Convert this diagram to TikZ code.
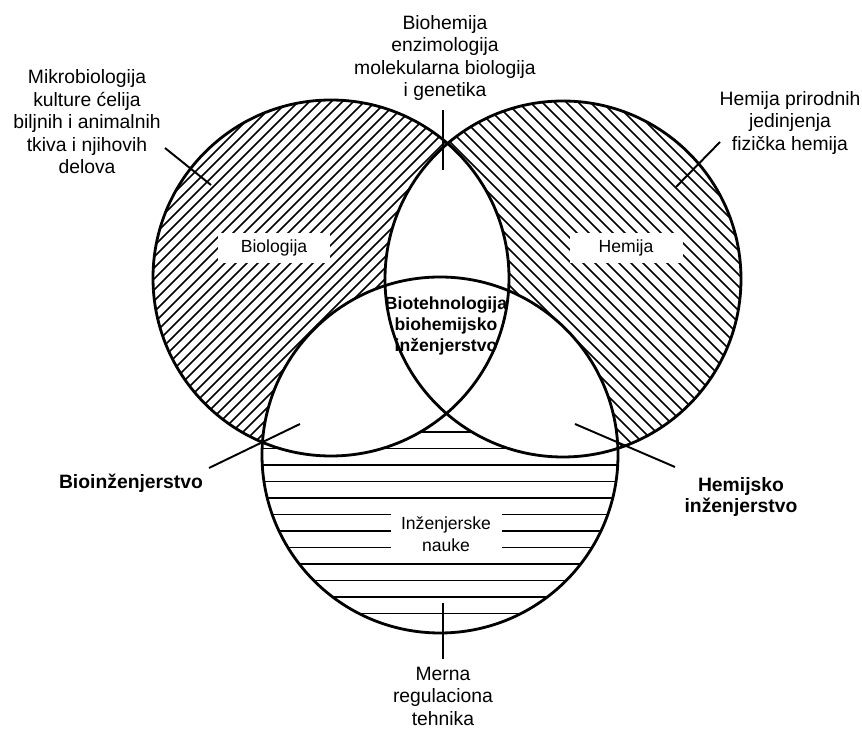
\documentclass[tikz,border=0pt]{standalone}
\usepackage{fontspec}
\setmainfont{Liberation Sans}
\begin{document}
\begin{tikzpicture}[x=0.2mm, y=-0.2mm,
    ring/.style = {line width=1.6pt},
    hatch/.style = {line width=0.85pt},
    lead/.style = {line width=1.1pt},
    outtext/.style = {font=\fontsize{11}{12.8}\selectfont, align=center, inner sep=0pt},
    boldtext/.style = {font=\bfseries\fontsize{11}{12}\selectfont, align=center, inner sep=0pt},
    midtext/.style = {font=\bfseries\fontsize{10}{12}\selectfont, align=center, inner sep=0pt},
    inbox/.style = {font=\fontsize{10}{12.5}\selectfont, align=center, fill=white,
                    inner sep=0pt, minimum width=2.24cm, minimum height=0.6cm}]
    \useasboundingbox (0,0) rectangle (862,729);
    \def\rad{178}
    % Circle centres
    \coordinate (bio) at (331,278);
    \coordinate (hem) at (563,279);
    \coordinate (inz) at (440,455);

    % Hatch the three circles
    \begin{scope}[shift={(bio)}]
        \clip (0,0) circle [radius=\rad];
        \foreach \i in {-264,-253,...,264}
            \draw [hatch] (\i-190,190) -- (\i+190,-190);
    \end{scope}
    \begin{scope}[shift={(hem)}]
        \clip (0,0) circle [radius=\rad];
        \foreach \i in {-264,-252,...,264}
            \draw [hatch] (\i-190,-190) -- (\i+190,190);
    \end{scope}
    \begin{scope}[shift={(inz)}]
        \clip (0,0) circle [radius=\rad];
        \foreach \y in {-23,-6.5,...,160}
            \draw [hatch] (-190,\y) -- (190,\y);
    \end{scope}

    % Clear the overlaps
    \begin{scope}
        \clip (bio) circle [radius=\rad];
        \fill [white] (hem) circle [radius=\rad];
        \fill [white] (inz) circle [radius=\rad];
    \end{scope}
    \begin{scope}
        \clip (hem) circle [radius=\rad];
        \fill [white] (inz) circle [radius=\rad];
    \end{scope}

    % Labels inside the circles
    \node [inbox] (biologija) at (274,248) {Biologija};
    \node [inbox, minimum width=2.26cm] (hemija) at (626,248) {Hemija};
    \node [inbox, minimum width=2.22cm, minimum height=1.08cm] (nauke) at (446,534) {Inženjerske\\nauke};

    % Draw the circles
    \draw [ring] (bio) circle [radius=\rad];
    \draw [ring] (hem) circle [radius=\rad];
    \draw [ring] (inz) circle [radius=\rad];

    % Leader lines
    \coordinate (mikroA) at (165,148);
    \coordinate (mikroB) at (211,185);
    \coordinate (topA) at (443,110);
    \coordinate (topB) at (443,170);
    \coordinate (prirodA) at (720,142);
    \coordinate (prirodB) at (676,187);
    \coordinate (bioinzA) at (209,468);
    \coordinate (bioinzB) at (300,424);
    \coordinate (heminzA) at (575,424);
    \coordinate (heminzB) at (675,467);
    \coordinate (mernaA) at (443,603);
    \coordinate (mernaB) at (443,659);
    \draw [lead] (mikroA) -- (mikroB);
    \draw [lead] (topA) -- (topB);
    \draw [lead] (prirodA) -- (prirodB);
    \draw [lead] (bioinzA) -- (bioinzB);
    \draw [lead] (heminzA) -- (heminzB);
    \draw [lead] (mernaA) -- (mernaB);

    % Outer texts
    \node [outtext] (mikro) at (87,122) {Mikrobiologija\\kulture ćelija\\biljnih i animalnih\\tkiva i njihovih\\delova};
    \node [outtext] (biohem) at (445,58) {Biohemija\\enzimologija\\molekularna biologija\\i genetika};
    \node [outtext] (prirod) at (790,123) {Hemija prirodnih\\jedinjenja\\fizička hemija};
    \node [midtext] (biotech) at (446,326) {Biotehnologija\\biohemijsko\\inženjerstvo};
    \node [boldtext] (bioinz) at (131,483) {Bioinženjerstvo};
    \node [boldtext] (heminz) at (741,497) {Hemijsko\\inženjerstvo};
    \node [outtext] (merna) at (443,696) {Merna\\regulaciona\\tehnika};
\end{tikzpicture}
\end{document}
